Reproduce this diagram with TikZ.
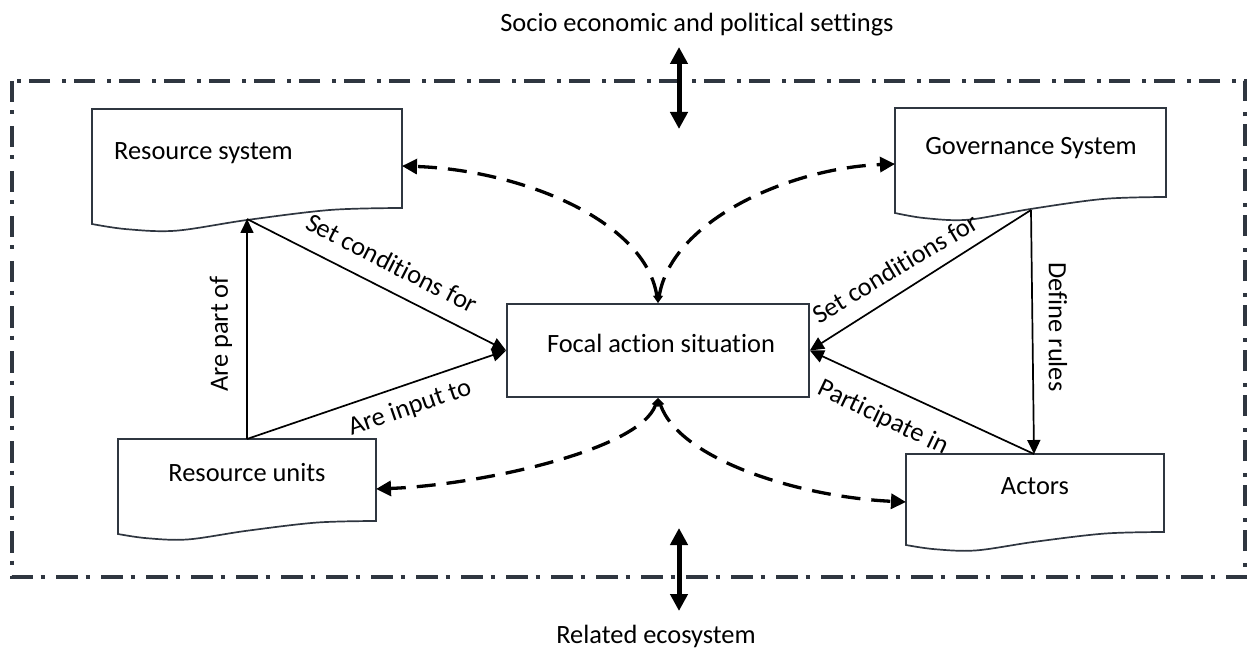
\documentclass[tikz,border=0pt]{standalone}
\usepackage{fontspec}
\setmainfont{Carlito}[Ligatures={NoCommon}]
\usetikzlibrary{arrows.meta}
\definecolor{boxc}{RGB}{47,54,64}
\tikzset{
  txt/.style={font=\fontsize{26.4}{31}\selectfont, inner sep=0pt},
  boxline/.style={draw=boxc, line width=1.7pt, line join=miter},
  sol/.style={draw=black, line width=1.7pt, -{Triangle[length=14pt,width=13pt]}},
  dsh/.style={draw=black, line width=3.3pt, dash pattern=on 19pt off 11pt,
     {Triangle[length=8pt,width=7pt]}-{Triangle[length=15pt,width=15pt]}},
  dbl/.style={draw=black, line width=5pt, {Triangle[length=17pt,width=17pt]}-{Triangle[length=17pt,width=17pt]}},
  frameline/.style={draw=boxc, line width=4pt, dash pattern=on 21.5pt off 8pt on 4pt off 11.5pt},
}
\newcommand{\mydoc}[5]{%
  \pgfmathsetmacro{\dW}{#3-#1}%
  \pgfmathsetmacro{\dD}{#5-#4}%
  \draw[boxline] (#1,#5) -- (#1,#2) -- (#3,#2) -- plot[smooth,tension=0.55] coordinates {(#3,#4) ({#1+0.77*\dW},{#4+0.12*\dD}) ({#1+0.5*\dW},{#4+0.75*\dD}) ({#1+0.27*\dW},{#4+1.42*\dD}) ({#1+0.11*\dW},{#4+1.32*\dD}) (#1,#5)} -- cycle;}
\begin{document}
\begin{tikzpicture}[x=1pt,y=-1pt]
\useasboundingbox (0,0) rectangle (1248,655);
% frame
\draw[frameline] (12,81) rectangle (1245,577);
% document boxes
\mydoc{92}{109}{402}{208}{224}
\mydoc{895}{108}{1166}{197}{213}
\mydoc{118}{439}{376}{521}{534}
\mydoc{906}{454}{1164}{532}{545}
% focal box
\node[draw=boxc, line width=1.7pt, minimum width=302pt, minimum height=93pt, inner sep=0pt] (focal) at (658,350.5) {};
% texts
\node[txt, anchor=base] (soc) at (697,32) {Socio economic and political settings};
\node[txt, anchor=base] (rel) at (656,643) {Related ecosystem};
\node[txt, anchor=base west] (rstxt) at (114,160) {Resource system};
\node[txt, anchor=base] (gstxt) at (1031,155) {Governance System};
\node[txt, anchor=base] (ftxt) at (661,352) {Focal action situation};
\node[txt, anchor=base] (rutxt) at (247,481) {Resource units};
\node[txt, anchor=base] (actxt) at (1035,494) {Actors};
% attachment points
\coordinate (rsB) at (247,219);
\coordinate (ruT) at (247,439);
\coordinate (gsB) at (1031,210);
\coordinate (acT) at (1034,454);
\coordinate (rsE) at (402,166);
\coordinate (gsW) at (895,164);
\coordinate (ruE) at (376,489);
\coordinate (acW) at (906,502);
\coordinate (fT) at (focal.north);
\coordinate (fB) at (focal.south);
\coordinate (s1) at (679,47);
\coordinate (s2) at (679,129);
\coordinate (e1) at (679,528);
\coordinate (e2) at (679,611);
% double arrows
\draw[dbl] (s1) -- (s2);
\draw[dbl] (e1) -- (e2);
% solid connectors
\draw[sol] (ruT) -- (rsB);
\draw[sol] (rsB) -- (focal.west);
\draw[sol] (ruT) -- (focal.west);
\draw[sol] (gsB) -- (focal.east);
\draw[sol] (acT) -- (focal.east);
\draw[sol] (gsB) -- (acT);
% dashed connectors
\draw[dsh] (fT) .. controls (645,220) and (520,170) .. (rsE);
\draw[dsh] (fT) .. controls (672,220) and (790,168) .. (gsW);
\draw[dsh] (fB) .. controls (640,450) and (480,485) .. (ruE);
\draw[dsh] (fB) .. controls (680,460) and (800,497) .. (acW);
% connector labels
\node[txt, rotate=-27] (l1) at (392,263) {Set conditions for};
\node[txt, rotate=90] (l2) at (221,334) {Are part of};
\node[txt, rotate=19] (l3) at (410,408) {Are input to};
\node[txt, rotate=31] (l4) at (895,268) {Set conditions for};
\node[txt, rotate=-90] (l5) at (1058,327) {Define rules};
\node[txt, rotate=-25.5] (l6) at (883,418) {Participate in};
\end{tikzpicture}
\end{document}
